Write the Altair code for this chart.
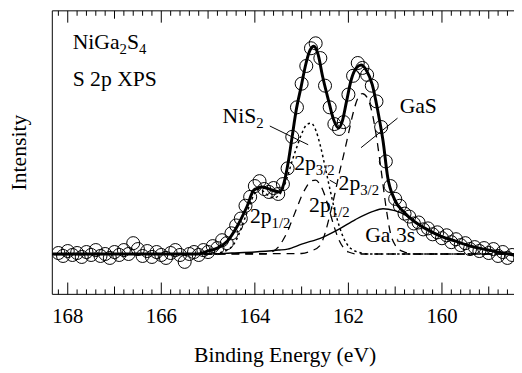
import altair as alt
import pandas as pd

FONT = "Liberation Serif"
W, H = 469, 288
E_LEFT, E_RIGHT = 168.33, 158.46
PX_PER_EV = W / (E_LEFT - E_RIGHT)

# ---------------- measured spectrum (open circles) ----------------
obs_energy = [round(168.2 - 0.1 * i, 1) for i in range(98)]  # 168.2 ... 158.5 eV
obs_intensity = [
    42, 39, 44, 40, 42, 38, 43, 40, 45, 39,
    41, 37, 43, 40, 45, 41, 52, 46, 39, 44,
    38, 43, 40, 37, 42, 45, 40, 33, 41, 43,
    40, 45, 43, 49, 47, 55, 52, 62, 70, 77,
    90, 99, 110, 115, 107, 104, 108, 102, 112, 128,
    160, 190, 214, 232, 250, 255, 240, 212, 190, 173,
    168, 175, 203, 222, 235, 230, 223, 212, 196, 170,
    135, 110, 97, 90, 82, 79, 72, 73, 66, 67,
    61, 63, 57, 60, 53, 56, 50, 52, 46, 48,
    44, 47, 42, 46, 39, 43, 37, 40,
]

# ---------------- total fit (thick line) ----------------
fit_energy = [168.33, 165.22, 165.01, 164.80, 164.59, 164.38, 164.17, 164.02, 163.85, 163.64,
              163.47, 163.39, 163.28, 163.20, 163.12, 163.01, 162.91, 162.82, 162.74, 162.65,
              162.55, 162.42, 162.32, 162.21, 162.13, 162.04, 161.94, 161.83, 161.73, 161.62,
              161.49, 161.37, 161.26, 161.16, 161.01, 160.80, 160.59, 160.32, 160.02, 159.71,
              159.39, 158.91, 158.46]
fit_intensity = [41, 41, 44, 47, 54, 69, 89, 106, 109, 106,
                 104, 111, 136, 161, 186, 211, 234, 248, 252, 244,
                 221, 196, 178, 169, 176, 196, 218, 230, 233, 228,
                 213, 186, 156, 119, 96, 83, 74, 66, 59, 54,
                 49, 44, 40]

# ---------------- GaS components (dashed) ----------------
gas32_energy = [168.33, 163.0, 162.8, 162.6, 162.5, 162.4, 162.3, 162.2, 162.1, 162.0,
                161.9, 161.8, 161.7, 161.6, 161.5, 161.4, 161.3, 161.2, 161.1, 161.0,
                160.9, 160.8, 160.6, 158.46]
gas32_intensity = [41, 41.5, 44, 50, 62, 80, 100, 122, 142, 163,
                   184, 199, 204, 200, 186, 160, 126, 90, 62, 50,
                   45, 43, 41, 41]
gas12_energy = [168.33, 163.8, 163.6, 163.5, 163.4, 163.3, 163.2, 163.1, 163.0, 162.9,
                162.8, 162.7, 162.6, 162.5, 162.4, 162.3, 162.2, 162.1, 162.0, 161.8, 158.46]
gas12_intensity = [41, 41, 44, 48, 55, 64, 76, 88, 100, 109,
                   115, 116, 111, 100, 84, 68, 55, 47, 43, 41, 41]

# ---------------- NiS2 component (dotted) ----------------
nis2_energy = [168.33, 164.9, 164.7, 164.5, 164.4, 164.3, 164.2, 164.1, 164.0, 163.9,
               163.8, 163.7, 163.6, 163.5, 163.4, 163.3, 163.2, 163.1, 163.0, 162.9,
               162.8, 162.7, 162.6, 162.5, 162.4, 162.3, 162.2, 162.1, 162.0, 161.9,
               161.8, 161.6, 158.46]
nis2_intensity = [41, 41, 43, 48, 55, 66, 79, 92, 103, 107,
                  104, 100, 98, 100, 107, 120, 136, 150, 163, 172,
                  174, 167, 151, 130, 108, 87, 70, 57, 49, 45,
                  43, 41, 41]

# ---------------- Ga 3s component (thin solid) ----------------
ga3s_energy = [168.33, 165.0, 164.5, 164.0, 163.5, 163.3, 163.0, 162.55, 162.21, 161.85,
               161.49, 161.26, 161.01, 160.80, 160.59, 160.32, 160.02, 159.71, 159.39, 158.91,
               158.46]
ga3s_intensity = [40.5, 41, 42, 43, 45, 46, 51, 58, 66, 76,
                  84, 87, 85, 81, 74, 66, 59, 54, 49, 44,
                  40]

# ---------------- axis ticks and labels ----------------
major_ticks = [168, 166, 164, 162, 160]
major_labels = ["168", "166", "164", "162", "160"]
mid_ticks = [167, 165, 163, 161, 159]
minor_ticks = [round(168.2 - 0.2 * i, 1) for i in range(49) if abs(round(168.2 - 0.2 * i, 1) % 1) > 1e-6]
x_title = "Binding Energy (eV)"
y_title = "Intensity"

# ---------------- annotations ----------------
# (text, energy, intensity, x-shift in px)
main_labels = [
    ("NiGa", 167.895, 249, 0), ("S", 167.895, 249, 55.2),
    ("S 2p XPS", 167.895, 212, 0),
    ("NiS", 164.69, 174, 0),
    ("GaS", 160.905, 184, 0),
    ("2p", 163.16, 126, 0),
    ("2p", 162.21, 106, 0),
    ("2p", 162.84, 84, 0),
    ("2p", 164.105, 72, 0),
    ("Ga 3s", 161.64, 53, 0),
]
sub_labels = [
    ("2", 167.895, 249, 47.7), ("4", 167.895, 249, 67.4),
    ("2", 164.69, 174, 34.2),
    ("3/2", 163.16, 126, 22), ("3/2", 162.21, 106, 22),
    ("1/2", 162.84, 84, 22), ("1/2", 164.105, 72, 22),
]
leaders = [
    (163.68, 171, 162.86, 152),
    (160.95, 179, 161.73, 149),
    (162.40, 116, 162.25, 112),
]

# ---------------- build tables ----------------
obs_df = pd.DataFrame({"E": obs_energy, "I": obs_intensity})
fit_df = pd.DataFrame({"E": fit_energy, "I": fit_intensity})
gas_df = pd.concat([
    pd.DataFrame({"E": gas32_energy, "I": gas32_intensity, "c": "GaS 2p3/2"}),
    pd.DataFrame({"E": gas12_energy, "I": gas12_intensity, "c": "GaS 2p1/2"}),
])
nis_df = pd.DataFrame({"E": nis2_energy, "I": nis2_intensity})
ga3s_df = pd.DataFrame({"E": ga3s_energy, "I": ga3s_intensity})
main_df = pd.DataFrame([{"t": t, "E": e - dx / PX_PER_EV, "I": v} for t, e, v, dx in main_labels])
sub_df = pd.DataFrame([{"t": t, "E": e - dx / PX_PER_EV, "I": v - 5} for t, e, v, dx in sub_labels])
lead_df = pd.DataFrame([{"E": a, "I": b, "E2": c, "I2": d} for a, b, c, d in leaders])
center_df = pd.DataFrame(
    [{"t": t, "E": e, "I": -29, "s": 21} for t, e in zip(major_labels, major_ticks)]
    + [{"t": x_title, "E": E_LEFT - (W / 2 + 2) / PX_PER_EV, "I": -69, "s": 22}]
)

xscale = alt.Scale(domain=[E_RIGHT, E_LEFT], reverse=True, nice=False, zero=False)
yscale = alt.Scale(domain=[0, H], nice=False, zero=False)

X = alt.X("E:Q", scale=xscale, axis=None)
Y = alt.Y("I:Q", scale=yscale, axis=None)
ORD = alt.Order("E:Q", sort="descending")

gas = alt.Chart(gas_df).mark_line(color="black", strokeWidth=1.3, strokeDash=[8, 6],
                                  interpolate="monotone", clip=True).encode(
    x=X, y=Y, detail="c:N", order=ORD)
nis = alt.Chart(nis_df).mark_line(color="black", strokeWidth=1.5, strokeDash=[2.5, 3],
                                  interpolate="monotone", clip=True).encode(x=X, y=Y, order=ORD)
ga3s = alt.Chart(ga3s_df).mark_line(color="black", strokeWidth=1.4,
                                    interpolate="monotone", clip=True).encode(x=X, y=Y, order=ORD)
pts = alt.Chart(obs_df).mark_point(shape="circle", filled=False, color="black", size=175,
                                   strokeWidth=1, opacity=1, clip=True).encode(x=X, y=Y)
fit = alt.Chart(fit_df).mark_line(color="black", strokeWidth=3,
                                  interpolate="monotone", clip=True).encode(x=X, y=Y, order=ORD)
lead = alt.Chart(lead_df).mark_rule(color="black", strokeWidth=1).encode(
    x=X, y=Y, x2="E2:Q", y2="I2:Q")
txt = alt.Chart(main_df).mark_text(align="left", baseline="alphabetic", font=FONT,
                                   fontSize=22, color="black").encode(x=X, y=Y, text="t:N")
sub = alt.Chart(sub_df).mark_text(align="left", baseline="alphabetic", font=FONT,
                                  fontSize=15, color="black").encode(x=X, y=Y, text="t:N")
ctr = alt.Chart(center_df).mark_text(align="center", baseline="alphabetic", font=FONT,
                                     color="black").encode(
    x=X, y=Y, text="t:N", size=alt.Size("s:Q", scale=None, legend=None))
ytitle = alt.Chart(pd.DataFrame({"t": [y_title]})).mark_text(
    align="center", baseline="alphabetic", font=FONT, fontSize=22, color="black",
    angle=270).encode(x=alt.value(-27), y=alt.value(H / 2), text="t:N")


def tick_layers(values, length):
    d = pd.DataFrame({"E": values})
    bottom = alt.Chart(d).mark_rule(color="black", strokeWidth=1).encode(
        x=X, y=alt.value(H), y2=alt.value(H - length))
    top = alt.Chart(d).mark_rule(color="black", strokeWidth=1).encode(
        x=X, y=alt.value(0), y2=alt.value(length))
    return [bottom, top]


one = pd.DataFrame({"a": [0]})
frame_top = alt.Chart(one).mark_rule(color="black", strokeWidth=1).encode(
    x=alt.value(0), x2=alt.value(W), y=alt.value(0))
frame_bottom = alt.Chart(one).mark_rule(color="black", strokeWidth=1).encode(
    x=alt.value(0), x2=alt.value(W), y=alt.value(H))
frame_left = alt.Chart(one).mark_rule(color="black", strokeWidth=1).encode(
    x=alt.value(0), y=alt.value(0), y2=alt.value(H))

layers = [gas, nis, ga3s, pts, fit, lead, txt, sub, ctr, ytitle,
          frame_top, frame_bottom, frame_left]
layers += tick_layers(major_ticks, 12) + tick_layers(mid_ticks, 8) + tick_layers(minor_ticks, 5)

chart = alt.layer(*layers).properties(
    width=W, height=H,
    autosize=alt.AutoSizeParams(type="none"),
    padding={"left": 45, "top": 0, "right": 0, "bottom": 77},
    background="white",
).configure_view(stroke=None)

chart.save("out.html", embed_options={"renderer": "svg", "actions": False})
